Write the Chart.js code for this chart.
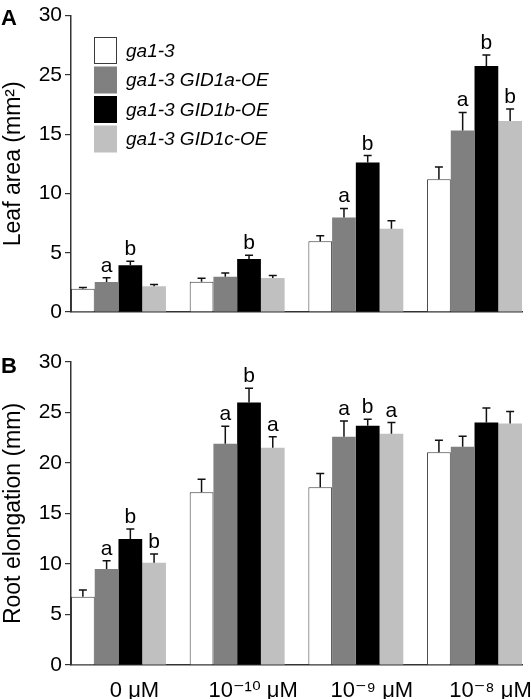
<!DOCTYPE html>
<html>
<head>
<meta charset="utf-8">
<script src="https://cdn.jsdelivr.net/npm/chart.js@4.4.0/dist/chart.umd.min.js"></script>
<style>
  html, body { margin: 0; padding: 0; background: #fff; overflow: hidden; }
  canvas { display: block; }
</style>
</head>
<body>
<canvas id="leafChart" width="531" height="330"></canvas>
<canvas id="rootChart" width="531" height="369"></canvas>
<script>
// GID1 overexpression in ga1-3: leaf area (A) and root elongation (B) at four GA doses

const doseLabels = ['0 μM', '10\u207B\u00B9\u2070 μM', '10\u207B\u2079 μM', '10\u207B\u2078 μM'];
const lineNames = ['ga1-3', 'ga1-3 GID1a-OE', 'ga1-3 GID1b-OE', 'ga1-3 GID1c-OE'];

// Panel A - values are in plotted axis units (printed tick labels skip 20)
const leafTickLabels = ['0', '5', '10', '15', '25', '30'];
const leafWt = [1.97, 2.55, 5.97, 11.2];
const leafA = [2.52, 2.97, 7.97, 15.3];
const leafB = [3.94, 4.47, 12.6, 20.75];
const leafC = [2.17, 2.86, 7.03, 16.1];
const leafWtErr = [0.1, 0.3, 0.47, 1.03];
const leafAErr = [0.36, 0.33, 0.77, 1.53];
const leafBErr = [0.33, 0.31, 0.6, 0.92];
const leafCErr = [0.14, 0.22, 0.67, 1.03];
const leafWtSig = ['', '', '', ''];
const leafASig = ['a', '', 'a', 'a'];
const leafBSig = ['b', 'b', 'b', 'b'];
const leafCSig = ['', '', '', 'b'];

// Panel B
const rootWt = [6.76, 17.1, 17.6, 21.06];
const rootA = [9.5, 21.9, 22.6, 21.6];
const rootB = [12.47, 26.0, 23.7, 24.0];
const rootC = [10.13, 21.5, 22.9, 23.9];
const rootWtErr = [0.66, 1.3, 1.35, 1.2];
const rootAErr = [0.83, 1.75, 1.55, 1.06];
const rootBErr = [1.0, 1.4, 0.63, 1.45];
const rootCErr = [0.86, 1.1, 1.1, 1.2];
const rootWtSig = ['', '', '', ''];
const rootASig = ['a', 'a', 'a', ''];
const rootBSig = ['b', 'b', 'b', ''];
const rootCSig = ['b', 'a', 'a', ''];

const barColors = ['#ffffff', '#808080', '#000000', '#c0c0c0'];
const FONT = "'Liberation Sans', Arial, 'DejaVu Sans', sans-serif";

function makeDatasets(series, errs, sigs) {
    return series.map((vals, s) => ({
        label: lineNames[s],
        data: vals.map((v, g) => ({ x: g, y: v })),
        errors: errs[s],
        sig: sigs[s],
        backgroundColor: barColors[s],
        borderColor: s === 0 ? '#3a3a3a' : barColors[s],
        borderWidth: s === 0 ? 1 : 0
    }));
}

// upper error bars + significance letters
const errorBars = {
    id: 'errorBars',
    afterDatasetsDraw(chart) {
        const ctx = chart.ctx;
        const yScale = chart.scales.y;
        chart.data.datasets.forEach((ds, i) => {
            chart.getDatasetMeta(i).data.forEach((bar, j) => {
                const top = yScale.getPixelForValue(ds.data[j].y + ds.errors[j]);
                ctx.save();
                ctx.strokeStyle = '#111';
                ctx.lineWidth = 1.5;
                ctx.beginPath();
                ctx.moveTo(bar.x, bar.y);
                ctx.lineTo(bar.x, top);
                ctx.moveTo(bar.x - 4, top);
                ctx.lineTo(bar.x + 4, top);
                ctx.stroke();
                if (ds.sig[j]) {
                    ctx.fillStyle = '#000';
                    ctx.font = '21px ' + FONT;
                    ctx.textAlign = 'center';
                    ctx.textBaseline = 'alphabetic';
                    ctx.fillText(ds.sig[j], bar.x, top - 6);
                }
                ctx.restore();
            });
        });
    }
};

const panelTag = {
    id: 'panelTag',
    afterDraw(chart, args, opts) {
        const ctx = chart.ctx;
        ctx.save();
        ctx.fillStyle = '#000';
        ctx.font = 'bold 22px ' + FONT;
        ctx.textBaseline = 'alphabetic';
        ctx.fillText(opts.text, 1, opts.y);
        ctx.restore();
    }
};

// legend box inside panel A
const boxLegend = {
    id: 'boxLegend',
    afterDraw(chart) {
        const ctx = chart.ctx;
        const left = chart.chartArea.left + 23;
        ctx.save();
        lineNames.forEach((name, i) => {
            const top = 37 + i * 29.5;
            ctx.fillStyle = barColors[i];
            ctx.fillRect(left, top, 23, 27);
            if (i === 0) {
                ctx.strokeStyle = '#3a3a3a';
                ctx.lineWidth = 1;
                ctx.strokeRect(left + 0.5, top + 0.5, 22, 26);
            }
            ctx.fillStyle = '#000';
            ctx.font = 'italic 19px ' + FONT;
            ctx.textBaseline = 'middle';
            ctx.fillText(name, left + 32, top + 14.5);
        });
        ctx.restore();
    }
};

function makeChart(id, datasets, cfg) {
    return new Chart(document.getElementById(id), {
        type: 'bar',
        data: { datasets: datasets },
        options: {
            responsive: false,
            animation: false,
            layout: { padding: { top: cfg.padTop, right: 9, left: 0, bottom: 0 } },
            datasets: { bar: { categoryPercentage: 0.8, barPercentage: 1 } },
            plugins: {
                legend: { display: false },
                tooltip: { enabled: false },
                panelTag: { text: cfg.tag, y: cfg.tagY }
            },
            scales: {
                x: {
                    type: 'linear',
                    offset: false,
                    min: -0.4,
                    max: 3.4,
                    grid: { display: false },
                    border: { display: true, color: '#333', width: 1.5 },
                    afterBuildTicks: s => { s.ticks = doseLabels.map((_, i) => ({ value: i })); },
                    afterFit: s => { s.height = cfg.xHeight; },
                    ticks: {
                        display: cfg.showX,
                        autoSkip: false,
                        maxRotation: 0,
                        labelOffset: 16,
                        padding: 5,
                        color: '#000',
                        font: { family: FONT, size: 22 },
                        callback: (v, i) => doseLabels[i]
                    }
                },
                y: {
                    min: 0,
                    max: cfg.yMax,
                    afterFit: s => { s.width = 71; },
                    grid: { drawOnChartArea: false, tickLength: 6, color: '#333', lineWidth: 1.2 },
                    border: { display: true, color: '#333', width: 1.5 },
                    ticks: {
                        stepSize: 5,
                        padding: 3,
                        color: '#000',
                        font: { family: FONT, size: 21 },
                        callback: cfg.tickCb
                    },
                    title: {
                        display: true,
                        text: cfg.yTitle,
                        color: '#000',
                        font: { family: FONT, size: 23 },
                        padding: 0
                    }
                }
            }
        },
        plugins: cfg.plugins
    });
}

makeChart('leafChart',
    makeDatasets([leafWt, leafA, leafB, leafC],
                 [leafWtErr, leafAErr, leafBErr, leafCErr],
                 [leafWtSig, leafASig, leafBSig, leafCSig]),
    {
        padTop: 12, xHeight: 18, showX: false, yMax: 25,
        yTitle: 'Leaf area (mm²)',
        tickCb: (v, i) => leafTickLabels[i],
        tag: 'A', tagY: 25,
        plugins: [errorBars, panelTag, boxLegend]
    });

makeChart('rootChart',
    makeDatasets([rootWt, rootA, rootB, rootC],
                 [rootWtErr, rootAErr, rootBErr, rootCErr],
                 [rootWtSig, rootASig, rootBSig, rootCSig]),
    {
        padTop: 32, xHeight: 34, showX: true, yMax: 30,
        yTitle: 'Root elongation (mm)',
        tickCb: v => v,
        tag: 'B', tagY: 43,
        plugins: [errorBars, panelTag]
    });
</script>
</body>
</html>
